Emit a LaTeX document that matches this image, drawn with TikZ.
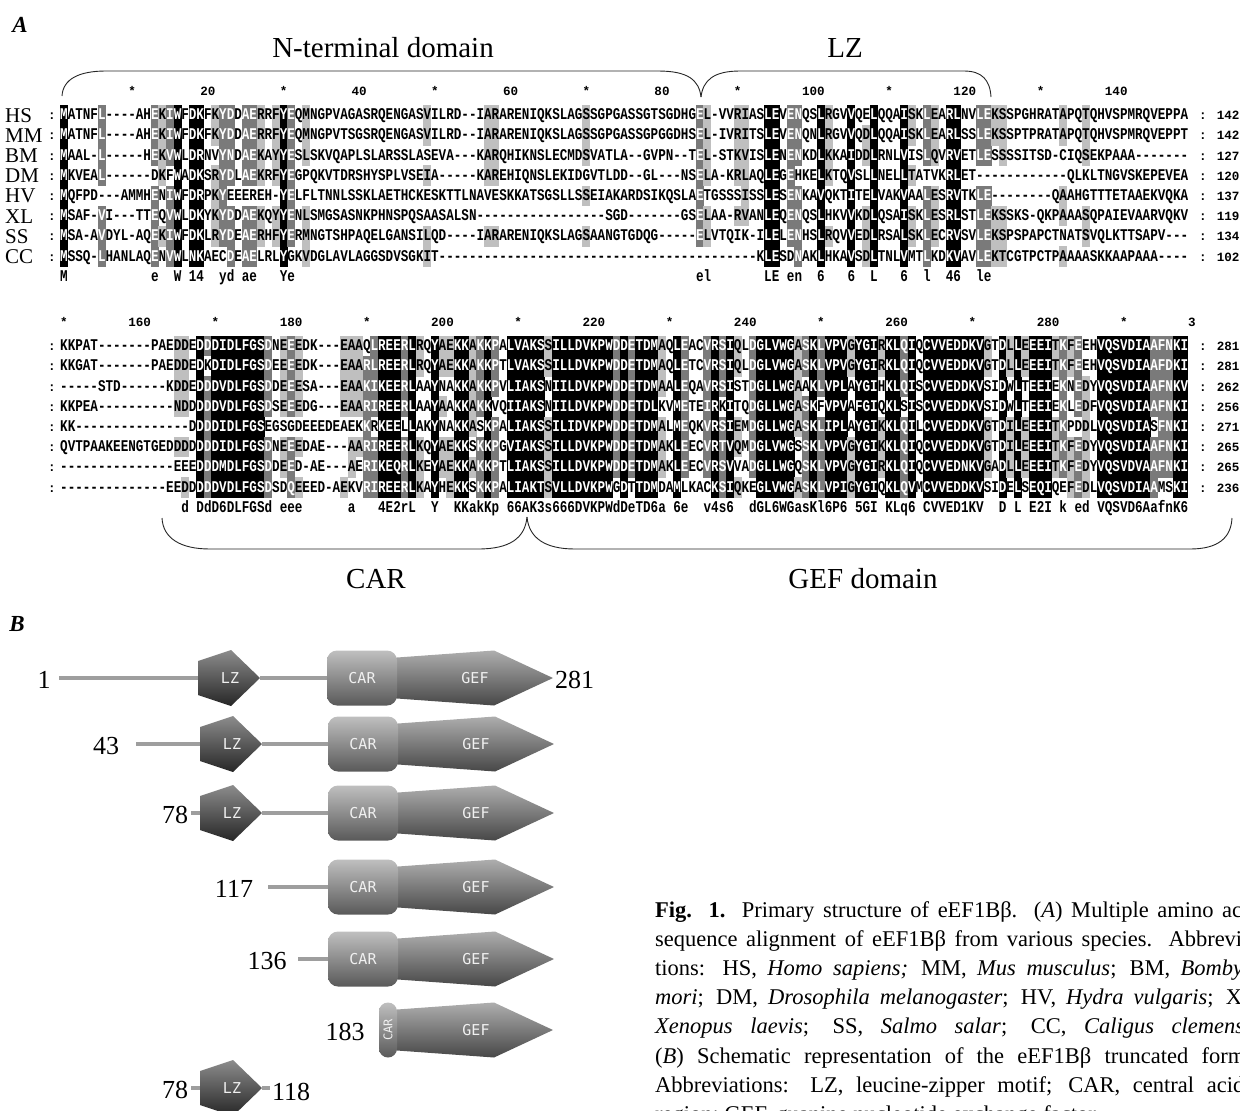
\documentclass[tikz,border=0pt]{standalone}
\usepackage{fontspec}
\usepackage{graphicx}
\setmainfont{Liberation Serif}
\newfontfamily\seqfont{Liberation Mono}
\newfontfamily\domfont{DejaVu Sans Mono}
\usetikzlibrary{calc,backgrounds}

\newcommand\colw{7.57}% column pitch of the alignment
\newcommand\rowh{20.2}% row pitch of the alignment

\tikzset{
  res/.style={anchor=base, inner sep=0pt, font=\seqfont\bfseries\fontsize{12.6}{12.6}\selectfont},
  lev1/.style={fill=black!25},
  lev2/.style={fill=black!52},
  lev3/.style={fill=black},
  ink0/.style={text=black}, ink1/.style={text=black},
  ink2/.style={text=white}, ink3/.style={text=white},
  species/.style={anchor=base west, inner sep=0pt, font=\fontsize{21}{21}\selectfont},
  title/.style={inner sep=0pt, font=\fontsize{29}{29}\selectfont},
  panel/.style={inner sep=0pt, font=\bfseries\itshape\fontsize{23}{23}\selectfont},
  brace/.style={draw=black!85, line width=0.9pt},
  backbone/.style={draw=black!38, line width=3.5pt},
  numlab/.style={inner sep=0pt, font=\fontsize{26}{26}\selectfont},
  domlab/.style={inner sep=0pt, text=black!6, font=\domfont\fontsize{15}{15}\selectfont},
  lzshade/.style={top color=black!45, bottom color=black!85},
  carshade/.style={rounded corners=10pt, top color=black!25, bottom color=black!65},
  gefshade/.style={top color=black!32, bottom color=black!72},
  capline/.style={anchor=base west, inner sep=0pt, font=\fontsize{22.5}{22.5}\selectfont}
}

% one residue of the alignment
\newcommand\aacell[5]{% #1 name, #2 x, #3 y of row centre, #4 shade level 0-3, #5 residue
  \ifnum#4>0 \fill[lev#4] (#2-4,#3-10.3) rectangle (#2+4,#3+10.3);\fi
  \node[res,ink#4] (#1) at (#2,#3+4.6) {\scalebox{1}[1.3]{#5}};}

% domain pictures of panel B
\newcommand\lzdomain[3]{% #1 name, #2 left x, #3 centre y
  \shade[lzshade] (#2,#3-17) -- (#2+33,#3-28) -- (#2+62,#3) -- (#2+33,#3+28) -- (#2,#3+17) -- cycle;
  \node[domlab] (#1) at (#2+32,#3) {LZ};
  \coordinate (#1-w) at (#2,#3);
  \coordinate (#1-e) at (#2+62,#3);}
\newcommand\cargef[3]{% #1 name, #2 left x of CAR, #3 centre y
  \shade[gefshade] (#2+63,#3-20) -- (#2+167,#3-27.5) -- (#2+226,#3) -- (#2+167,#3+27.5) -- (#2+63,#3+20) -- cycle;
  \shade[carshade] (#2,#3-27.5) rectangle (#2+70,#3+27.5);
  \node[domlab] (#1car) at (#2+35,#3) {CAR};
  \node[domlab] (#1gef) at (#2+148,#3) {GEF};
  \coordinate (#1-w) at (#2,#3);}

\ExplSyntaxOn
\int_new:N \l__aln_s_int
\int_new:N \l__aln_g_int
\int_new:N \l__aln_m_int
\int_new:N \l__aln_lev_int
\int_new:N \l__aln_pri_int
\tl_new:N \l__aln_c_tl
\tl_new:N \l__aln_gr_tl
\tl_new:N \l__aln_cons_tl
\tl_new:N \l__aln_x_tl
\tl_new:N \l__aln_col_tl
\tl_new:N \l__aln_row_tl
\int_step_inline:nn {8} { \tl_new:c {l__aln_ch_#1_tl} }
\cs_generate_variant:Nn \str_item:Nn {c}
\cs_generate_variant:Nn \str_const:Nn {cx}

% similarity group of a residue (0 = none)
\cs_new:Npn \__aln_group:n #1
  {
    \str_case:nnF {#1}
      {
        {D}{1} {N}{1} {E}{2} {Q}{2} {S}{3} {T}{3} {K}{4} {R}{4}
        {F}{5} {Y}{5} {W}{5} {L}{6} {I}{6} {V}{6} {M}{6}
      }
      {0}
  }
\cs_generate_variant:Nn \__aln_group:n {V,e}

\cs_new:Npn \gapx #1 { \prg_replicate:nn {#1} {-} }
\NewDocumentCommand \seqrow {mmm} { \str_const:cx {c__aln_#1_#2_str} {#3} }

% conservation of the residue in \l__aln_c_tl
\cs_new_protected:Npn \__aln_score:
  {
    \tl_set:Nx \l__aln_gr_tl { \__aln_group:V \l__aln_c_tl }
    \int_zero:N \l__aln_s_int
    \int_zero:N \l__aln_g_int
    \int_step_inline:nn {8}
      {
        \str_if_eq:eeT { \l__aln_c_tl } { \tl_use:c {l__aln_ch_##1_tl} }
          { \int_incr:N \l__aln_s_int }
        \int_compare:nNnT { \l__aln_gr_tl } > { 0 }
          {
            \str_if_eq:eeT { \l__aln_gr_tl }
              { \__aln_group:e { \tl_use:c {l__aln_ch_##1_tl} } }
              { \int_incr:N \l__aln_g_int }
          }
      }
    \int_set:Nn \l__aln_m_int { \int_max:nn { \l__aln_s_int } { \l__aln_g_int } }
    \int_set:Nn \l__aln_lev_int
      {
        \int_compare:nNnTF { \l__aln_m_int } = { 8 } { 3 }
          {
            \int_compare:nNnTF { \l__aln_m_int } > { 6 } { 2 }
              { \int_compare:nNnTF { \l__aln_m_int } > { 4 } { 1 } { 0 } }
          }
      }
    \int_compare:nNnTF { \l__aln_s_int } = { 8 }
      {
        \int_set:Nn \l__aln_pri_int { 3 }
        \tl_set_eq:NN \l__aln_cons_tl \l__aln_c_tl
      }
      {
        \bool_if:nT
          { \int_compare_p:nNn { \l__aln_g_int } = { 8 } && \int_compare_p:nNn { \l__aln_pri_int } < { 2 } }
          {
            \int_set:Nn \l__aln_pri_int { 2 }
            \tl_set_eq:NN \l__aln_cons_tl \l__aln_gr_tl
          }
        \bool_if:nT
          { \int_compare_p:nNn { \l__aln_s_int } > { 5 } && \int_compare_p:nNn { \l__aln_pri_int } < { 1 } }
          {
            \int_set:Nn \l__aln_pri_int { 1 }
            \tl_set:Nx \l__aln_cons_tl { \str_lowercase:f { \l__aln_c_tl } }
          }
      }
  }

% one block of 8 sequences x 149 columns, with its consensus line
\cs_new_protected:Npn \__aln_block:nn #1#2
  {
    \int_step_variable:nNn {149} \l__aln_col_tl
      {
        \tl_set:Nx \l__aln_x_tl { \fp_eval:n { 64 + (\l__aln_col_tl - 1) * \colw } }
        \int_step_inline:nn {8}
          {
            \tl_set:cx {l__aln_ch_##1_tl}
              { \str_item:cn {c__aln_#1_##1_str} {\l__aln_col_tl} }
          }
        \int_zero:N \l__aln_pri_int
        \tl_clear:N \l__aln_cons_tl
        \int_step_variable:nNn {8} \l__aln_row_tl
          {
            \tl_set_eq:Nc \l__aln_c_tl {l__aln_ch_\l__aln_row_tl _tl}
            \tl_if_empty:NT \l__aln_c_tl { \tl_set:Nn \l__aln_c_tl {-} }
            \int_zero:N \l__aln_lev_int
            \str_if_eq:VnF \l__aln_c_tl {-} { \__aln_score: }
            \use:x
              {
                \exp_not:N \aacell
                  { b#1r\l__aln_row_tl c\l__aln_col_tl }
                  { \l__aln_x_tl }
                  { \fp_eval:n { #2 + (\l__aln_row_tl - 1) * \rowh } }
                  { \int_use:N \l__aln_lev_int }
                  { \l__aln_c_tl }
              }
          }
        \tl_if_empty:NF \l__aln_cons_tl
          {
            \use:x
              {
                \exp_not:N \aacell { b#1k\l__aln_col_tl } { \l__aln_x_tl }
                  { \fp_eval:n { #2 + 8 * \rowh } } {0} { \l__aln_cons_tl }
              }
          }
      }
  }
\NewDocumentCommand \alnblock {mm} { \__aln_block:nn {#1} {#2} }
\ExplSyntaxOff

% residues 1-149
\seqrow{1}{1}{MATNFL\gapx{4}AHEKIWFDKFKYDDAERRFYEQMNGPVAGASRQENGASVILRD--IARARENIQKSLAGSSGPGASSGTSGDHGEL-VVRIASLEVENQSLRGVVQELQQAISKLEARLNVLEKSSPGHRATAPQTQHVSPMRQVEPPA}
\seqrow{1}{2}{MATNFL\gapx{4}AHEKIWFDKFKYDDAERRFYEQMNGPVTSGSRQENGASVILRD--IARARENIQKSLAGSSGPGASSGPGGDHSEL-IVRITSLEVENQNLRGVVQDLQQAISKLEARLSSLEKSSPTPRATAPQTQHVSPMRQVEPPT}
\seqrow{1}{3}{MAAL-L\gapx{5}HEKVWLDRNVYNDAEKAYYESLSKVQAPLSLARSSLASEVA---KARQHIKNSLECMDSVATLA--GVPN--TEL-STKVISLENENKDLKKAIDDLRNLVISLQVRVETLESSSSITSD-CIQSEKPAAA\gapx{7}}
\seqrow{1}{4}{MKVEAL\gapx{6}DKFWADKSRYDLAEKRFYEGPQKVTDRSHYSPLVSEIA\gapx{5}KAREHIQNSLEKIDGVTLDD--GL---NSELA-KRLAQLEGEHKELKTQVSLLNELLTATVKRLET\gapx{12}QLKLTNGVSKEPEVEA}
\seqrow{1}{5}{MQFPD---AMMHENIWFDRPKYEEEREH-YELFLTNNLSSKLAETHCKESKTTLNAVESKKATSGSLLSSEIAKARDSIKQSLAETGSSSISSLESENKAVQKTITELVAKVAALESRVTKLE\gapx{8}QAAHGTTTETAAEKVQKA}
\seqrow{1}{6}{MSAF-VI---TTEQVWLDKYKYDDAEKQYYENLSMGSASNKPHNSPQSAASALSN\gapx{17}SGD\gapx{7}GSELAA-RVANLEQENQSLHKVVKDLQSAISKLESRLSTLEKSSKS-QKPAAASQPAIEVAARVQKV}
\seqrow{1}{7}{MSA-AVDYL-AQEKIWFDKLRYDEAERHFYERMNGTSHPAQELGANSILQD\gapx{4}IARARENIQKSLAGSAANGTGDQG\gapx{5}ELVTQIK-ILELENHSLRQVVEDLRSALSKLECRVSVLEKSPSPAPCTNATSVQLKTTSAPV---}
\seqrow{1}{8}{MSSQ-LHANLAQENVWLNKAECDEAELRLYGKVDGLAVLAGGSDVSGKIT\gapx{42}KLESDNAKLHKAVSDLTNLVMTLKDKVAVLEKTCGTPCTPAAAASKKAAPAAA\gapx{4}}
% residues 150-298
\seqrow{2}{1}{KKPAT\gapx{7}PAEDDEDDDIDLFGSDNEEEDK---EAAQLREERLRQYAEKKAKKPALVAKSSILLDVKPWDDETDMAQLEACVRSIQLDGLVWGASKLVPVGYGIRKLQIQCVVEDDKVGTDLLEEEITKFEEHVQSVDIAAFNKI}
\seqrow{2}{2}{KKGAT\gapx{7}PAEDDEDKDIDLFGSDEEEEDK---EAARLREERLRQYAEKKAKKPTLVAKSSILLDVKPWDDETDMAQLETCVRSIQLDGLVWGASKLVPVGYGIRKLQIQCVVEDDKVGTDLLEEEITKFEEHVQSVDIAAFDKI}
\seqrow{2}{3}{\gapx{5}STD\gapx{6}KDDEDDDVDLFGSDDEEESA---EAAKIKEERLAAYNAKKAKKPVLIAKSNIILDVKPWDDETDMAALEQAVRSISTDGLLWGAAKLVPLAYGIHKLQISCVVEDDKVSIDWLTEEIEKNEDYVQSVDIAAFNKV}
\seqrow{2}{4}{KKPEA\gapx{10}NDDDDDVDLFGSDSEEEDG---EAARIREERLAAYAAKKAKKVQIIAKSNIILDVKPWDDETDLKVMETEIRKITQDGLLWGASKFVPVAFGIQKLSISCVVEDDKVSIDWLTEEIEKLEDFVQSVDIAAFNKI}
\seqrow{2}{5}{KK\gapx{15}DDDDIDLFGSEGSGDEEEDEAEKKRKEELLAKYNAKKASKPALIAKSSILIDVKPWDDETDMALMEQKVRSIEMDGLLWGASKLIPLAYGIKKLQILCVVEDDKVGTDILEEEITKPDDLVQSVDIASFNKI}
\seqrow{2}{6}{QVTPAAKEENGTGEDDDDDDDIDLFGSDNEEEDAE---AARIREERLKQYAEKKSKKPGVIAKSSILLDVKPWDDETDMAKLEECVRTVQMDGLVWGSSKLVPVGYGIKKLQIQCVVEDDKVGTDILEEEITKFEDYVQSVDIAAFNKI}
\seqrow{2}{7}{\gapx{15}EEEDDDMDLFGSDDEED-AE---AERIKEQRLKEYAEKKAKKPTLIAKSSILLDVKPWDDETDMAKLEECVRSVVADGLLWGQSKLVPVGYGIRKLQIQCVVEDNKVGADLLEEEITKFEDYVQSVDVAAFNKI}
\seqrow{2}{8}{\gapx{14}EEDDDDDVDLFGSDSDQEEED-AEKVRIREERLKAYHEKKSKKPALIAKTSVLLDVKPWGDTTDMDAMLKACKSIQKEGLVWGASKLVPIGYGIQKLQVMCVVEDDKVSIDELSEQIQEFEDLVQSVDIAAMSKI}

\begin{document}
\begin{tikzpicture}[x=1pt,y=-1pt]
\useasboundingbox (0,0) rectangle (1240,1111);

% ---- A: alignment ----
\node[panel] (pA) at (20,25) {A};
\node[title] (tNterm) at (383,48) {N-terminal domain};
\node[title] (tLZ) at (845,48) {LZ};
\coordinate (bN1) at (62,96);
\coordinate (bTip1) at (701,97);
\coordinate (bLZ2) at (991,97);
\draw[brace] (bN1) .. controls (63,79) and (79,71) .. (106,71) -- (658,71) .. controls (688,71) and (699,80) .. (bTip1);
\draw[brace] (bTip1) .. controls (703,80) and (714,71) .. (740,71) -- (964,71) .. controls (982,71) and (990,80) .. (bLZ2);

% position ruler
\foreach \c in {10,30,...,130} \node[res] (sA\c) at ({64+(\c-1)*\colw},95.6) {*};
\foreach \c in {20,40,...,140} \node[res] (nA\c) at ({64+(\c-1)*\colw},95.6) {\c};
\foreach \n [count=\k] in {HS,MM,BM,DM,HV,XL,SS,CC}
  \node[species] (sp\n) at (5,{115+(\k-1)*\rowh+7}) {\n};
\foreach \k in {1,...,8} \node[res] (cA\k) at (52,{115+(\k-1)*\rowh+4.6}) {:};
\foreach \n [count=\k] in {142,142,127,120,137,119,134,102}
  \node[res,anchor=base west] (eA\k) at (1199,{115+(\k-1)*\rowh+4.6}) {: \n};
\alnblock{1}{115}

% second block
\foreach \c in {150,170,...,290} \node[res] (sB\c) at ({64+(\c-150)*\colw},326.6) {*};
\foreach \c in {160,180,...,280} \node[res] (nB\c) at ({64+(\c-150)*\colw},326.6) {\c};
\node[res] (nB300) at ({64+149*\colw},326.6) {3};
\foreach \k in {1,...,8} \node[res] (cB\k) at (52,{346+(\k-1)*\rowh+4.6}) {:};
\foreach \n [count=\k] in {281,281,262,256,271,265,265,236}
  \node[res,anchor=base west] (eB\k) at (1199,{346+(\k-1)*\rowh+4.6}) {: \n};
\alnblock{2}{346}

\coordinate (bC1) at (162,518);
\coordinate (bTip2) at (527,517);
\coordinate (bG2) at (1232,518);
\draw[brace] (bC1) .. controls (163,538) and (180,549) .. (210,549) -- (478,549) .. controls (510,549) and (525,538) .. (bTip2);
\draw[brace] (bTip2) .. controls (529,538) and (545,549) .. (575,549) -- (1190,549) .. controls (1218,549) and (1231,538) .. (bG2);
\node[title] (tCAR) at (376,579) {CAR};
\node[title] (tGEF) at (863,579) {GEF domain};

% ---- B: truncated forms ----
\node[panel] (pB) at (17,624) {B};

\node[numlab] (n1) at (44,680) {1};
\coordinate (r1s) at (59,678);
\lzdomain{lzA}{198}{678}
\cargef{fA}{327}{678}
\node[numlab,anchor=west] (n281) at (555,680) {281};

\node[numlab] (n43) at (106,746) {43};
\coordinate (r2s) at (136,744);
\lzdomain{lzB}{200}{744}
\cargef{fB}{328}{744}

\node[numlab] (n78a) at (175,815) {78};
\coordinate (r3s) at (191,813);
\lzdomain{lzC}{200}{813}
\cargef{fC}{328}{813}

\node[numlab] (n117) at (234,889) {117};
\coordinate (r4s) at (268,887);
\cargef{fD}{328}{887}

\node[numlab] (n136) at (267,961) {136};
\coordinate (r5s) at (298,959);
\cargef{fE}{328}{959}

\node[numlab] (n183) at (345,1032) {183};
\shade[gefshade] (390,1010) -- (494,1002.5) -- (553,1030) -- (494,1057.5) -- (390,1050) -- cycle;
\shade[carshade,rounded corners=9pt] (379,1002.5) rectangle (397,1057.5);
\node[domlab,rotate=90,font=\domfont\fontsize{12}{12}\selectfont] (fFcar) at (388,1030) {CAR};
\node[domlab] (fFgef) at (476,1030) {GEF};

\node[numlab] (n78b) at (175,1090) {78};
\coordinate (r7s) at (191,1088);
\lzdomain{lzG}{200}{1088}
\coordinate (r7e) at (270,1088);
\node[numlab,anchor=west] (n118) at (272,1092) {118};

\begin{scope}[on background layer]
  \draw[backbone] (r1s) -- (lzA-w);
  \draw[backbone] (lzA-e) -- (fA-w);
  \draw[backbone] (r2s) -- (lzB-w);
  \draw[backbone] (lzB-e) -- (fB-w);
  \draw[backbone] (r3s) -- (lzC-w);
  \draw[backbone] (lzC-e) -- (fC-w);
  \draw[backbone] (r4s) -- (fD-w);
  \draw[backbone] (r5s) -- (fE-w);
  \draw[backbone] (r7s) -- (lzG-w);
  \draw[backbone] (lzG-e) -- (r7e);
\end{scope}

% ---- caption, cut at the right edge ----
\node[capline] (cap1) at (655,917) {\makebox[587pt][s]{\textbf{Fig. 1.} Primary structure of eEF1Bβ. (\textit{A}) Multiple amino ac}};
\node[capline] (cap2) at (655,946.2) {\makebox[587pt][s]{sequence alignment of eEF1Bβ from various species. Abbrevi}};
\node[capline] (cap3) at (655,975.4) {\makebox[588pt][s]{tions: HS, \textit{Homo sapiens;} MM, \textit{Mus musculus}; BM, \textit{Bomby}}};
\node[capline] (cap4) at (655,1004.6) {\makebox[587pt][s]{\textit{mori}; DM, \textit{Drosophila melanogaster}; HV, \textit{Hydra vulgaris}; X}};
\node[capline] (cap5) at (655,1033.8) {\makebox[589pt][s]{\textit{Xenopus laevis}; SS, \textit{Salmo salar}; CC, \textit{Caligus clemens}}};
\node[capline] (cap6) at (655,1063) {\makebox[590pt][s]{(\textit{B}) Schematic representation of the eEF1Bβ truncated form}};
\node[capline] (cap7) at (655,1092.2) {\makebox[589pt][s]{Abbreviations: LZ, leucine-zipper motif; CAR, central acid}};
\node[capline] (cap8) at (655,1121.4) {region; GEF, guanine nucleotide exchange factor.};
\end{tikzpicture}
\end{document}
